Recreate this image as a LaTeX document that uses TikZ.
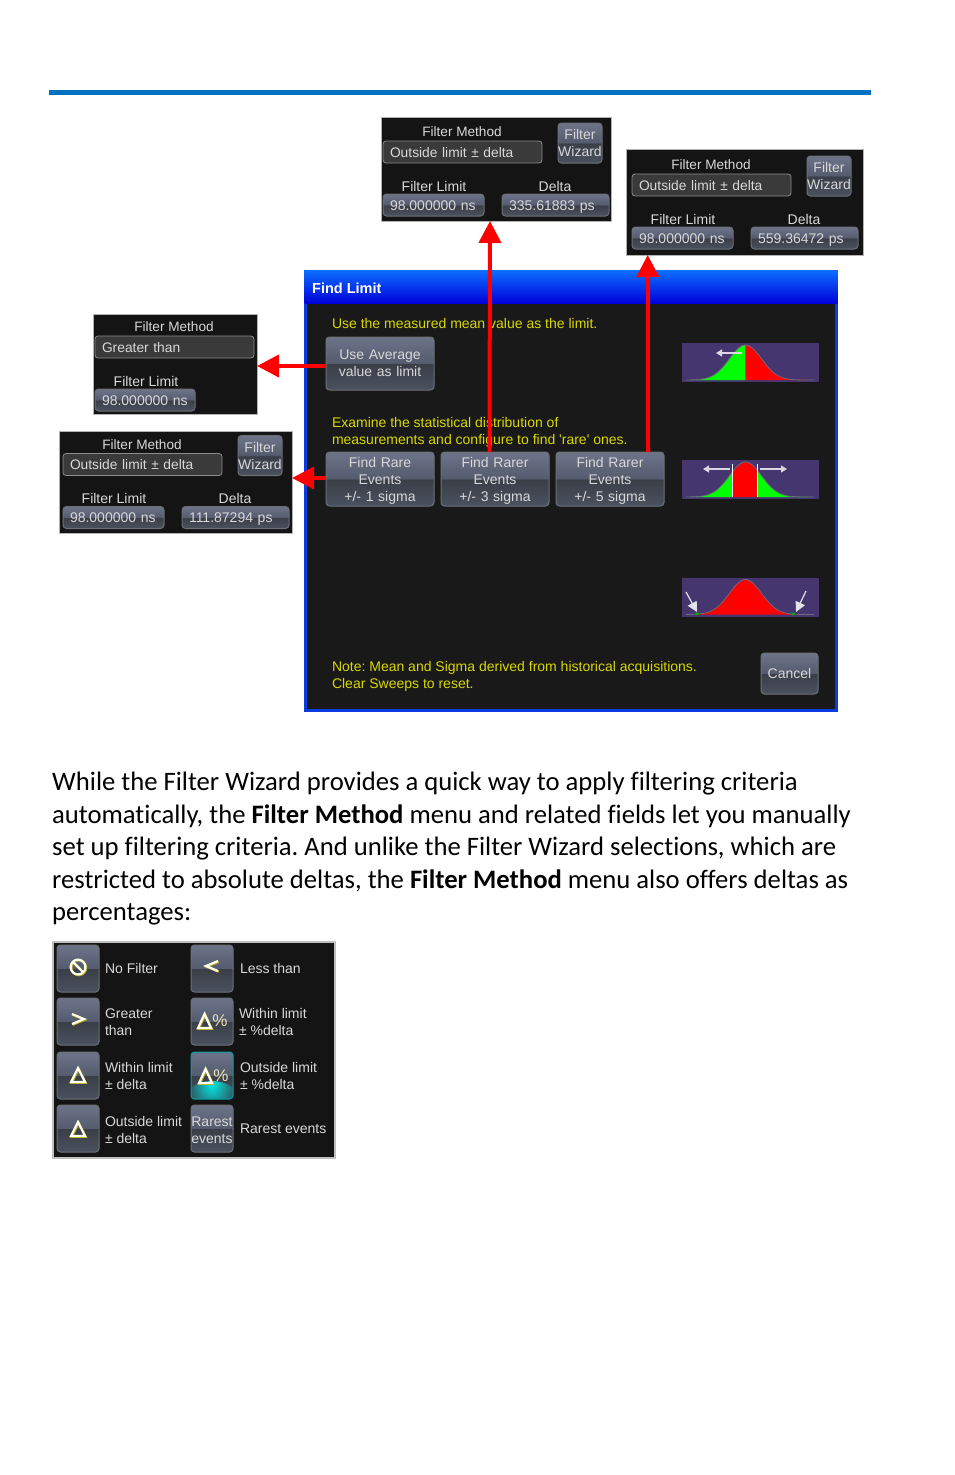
\documentclass[tikz,border=0pt]{standalone}
\usepackage{fontspec}
\setmainfont[Ligatures=NoCommon]{Carlito}
\newfontfamily\uifont{Liberation Sans}
\usetikzlibrary{arrows.meta}

\definecolor{rulecol}{HTML}{0070C0}
\definecolor{panelcol}{HTML}{141414}
\definecolor{dialogcol}{HTML}{191919}
\definecolor{labelcol}{HTML}{D8D8D8}
\definecolor{notecol}{HTML}{D8D800}
\definecolor{thumbcol}{HTML}{46366F}
\definecolor{iconcol}{HTML}{FFFFF0}
\definecolor{iconlow}{HTML}{B8A820}
\definecolor{btntop}{HTML}{6D7389}
\definecolor{btnmidhigh}{HTML}{565C6F}
\definecolor{btnmidlow}{HTML}{3A3E47}
\definecolor{btnlow}{HTML}{4A525F}
\definecolor{btnedge}{HTML}{6C7076}
\definecolor{glowcol}{HTML}{00E6E6}
\definecolor{fieldcol}{HTML}{3A3A3A}
\definecolor{fieldedge}{HTML}{8C8C8C}
\definecolor{dialogedge}{HTML}{0A3CE0}

\pgfdeclareverticalshading{btnshade}{100bp}{color(0bp)=(btnlow); color(25bp)=(btnlow);
  color(49.5bp)=(btnmidlow); color(50.5bp)=(btnmidhigh); color(75bp)=(btntop); color(100bp)=(btntop)}

\tikzset{
  x=1pt, y=-1pt,
  ui/.style={font=\uifont\fontsize{14}{17}\selectfont, text=labelcol, inner sep=0pt, outer sep=0pt},
  label/.style={ui, align=center},
  leftlabel/.style={ui, align=left, anchor=west},
  note/.style={leftlabel, text=notecol},
  btnbox/.style 2 args={ui, anchor=north west, align=center, shading=btnshade, draw=btnedge,
    rounded corners=3.5pt, line width=1pt, text width=#1, minimum width=#1, minimum height=#2},
  rarebox/.style={btnbox={108pt}{54pt}, text depth=33pt},
  valuebox/.style={ui, anchor=north west, align=left, shading=btnshade, draw=btnedge,
    rounded corners=3.5pt, line width=1pt, text width=#1, inner xsep=7pt, text height=11.5pt, text depth=1.5pt, minimum height=22pt},
  field/.style={ui, anchor=north west, align=left, fill=fieldcol, draw=fieldedge, rounded corners=3pt,
    line width=.8pt, text width=145pt, inner xsep=7pt, text height=11.5pt, text depth=1.5pt, minimum height=22pt,
    font=\uifont\fontsize{13.8}{17}\selectfont},
  panelbox/.style={anchor=north west, fill=panelcol, draw=gray!60, line width=.6pt, inner sep=0pt, outer sep=0pt},
  redarrow/.style={draw=red, line width=4pt, -{Triangle[length=22pt,width=22pt]}},
  thumb/.style={anchor=north west, fill=thumbcol, minimum width=137pt, minimum height=39pt, inner sep=0pt, outer sep=0pt},
  thumbarrow/.style={draw=white!80!thumbcol, line width=1.2pt, -{Triangle[length=6pt,width=7pt]}},
  iconwhite/.style={draw=iconcol, line width=2.2pt, line join=miter},
  iconshadow/.style={draw=iconlow, line width=2.2pt, line join=miter},
}

% panel with delta and wizard: name, x, y, w, h, field x, field y, delta value
\newcommand{\filterpanel}[8]{
  \node[panelbox, minimum width=#4, minimum height=#5] (#1panel) at (#2,#3) {};
  \begin{scope}[shift={(#6,#7)}]
    \node[label, font=\uifont\fontsize{13.6}{17}\selectfont] (#1method) at (79,-9) {Filter Method};
    \node[field] (#1field) at (0,0) {Outside limit ± delta};
    \node[btnbox={44pt}{40pt}] (#1wizard) at (175,-18) {Filter\\Wizard};
    \node[label] (#1limit) at (51,45) {Filter Limit};
    \node[valuebox=87pt] (#1value) at (0,53) {98.000000 ns};
    \node[label] (#1deltalabel) at (172,45) {Delta};
    \node[valuebox=93pt] (#1delta) at (119,53) {#8};
  \end{scope}
}
% filled piece of the bell curve: colour, from, to, base line
\newcommand{\bellfill}[4]{
  \fill[#1] (#2,#4) -- plot[domain=#2:#3, samples=40] (\x,{#4-35*exp(-0.5*((\x-745.5)/16)*((\x-745.5)/16))}) -- (#3,#4) -- cycle;
}
\newcommand{\bellbase}[1]{
  \draw[gray!70!thumbcol, line width=.8pt] plot[domain=686:814, samples=80] (\x,{#1-35*exp(-0.5*((\x-745.5)/16)*((\x-745.5)/16))});
}
% icon drawn with its shadow
\newcommand{\iconshape}[2]{
  \draw[iconshadow, shift={(#1)}, xshift=.8pt, yshift=-.8pt] #2;
  \draw[iconwhite, shift={(#1)}] #2;
}

\begin{document}
\frenchspacing
\begin{tikzpicture}
  \useasboundingbox (0,0) rectangle (954,1475);
  \fill[white] (0,0) rectangle (954,1475);
  \fill[rulecol] (49,90) rectangle (871,95);

  % the dialog
  \node[anchor=north west, fill=dialogcol, draw=dialogedge, line width=2.6pt, minimum width=531pt,
    minimum height=439pt, inner sep=0pt, outer sep=0pt] (dialog) at (305.5,271.5) {};
  \node[anchor=north west, top color=blue!60!cyan!95!white, bottom color=blue!85!black, minimum width=533pt,
    minimum height=33pt, inner sep=0pt, outer sep=0pt] (titlebar) at (304.5,270.5) {};
  \node[anchor=west, inner sep=0pt, text=white, font=\uifont\bfseries\fontsize{14.5}{17}\selectfont] (title) at (312,288) {Find Limit};

  \node[note] (usetext) at (332,323) {Use the measured mean value as the limit.};
  \node[btnbox={108pt}{53pt}] (avgbtn) at (326,337) {Use Average\\value as limit};
  \node[note] (examtext) at (332,432) {Examine the statistical distribution of\\measurements and configure to find 'rare' ones.};
  \node[rarebox] (rareone) at (326,452) {Find Rare\\Events\\+/- 1 sigma};
  \node[rarebox] (rarethree) at (441,452) {Find Rarer\\Events\\+/- 3 sigma};
  \node[rarebox] (rarefive) at (556,452) {Find Rarer\\Events\\+/- 5 sigma};
  \node[note] (notetext) at (332,676.5) {Note: Mean and Sigma derived from historical acquisitions.\\Clear Sweeps to reset.};
  \node[btnbox={57pt}{41pt}] (cancel) at (761,653) {Cancel};

  % the three curves
  \node[thumb] (thumbmean) at (682,343) {};
  \bellfill{green}{690}{745.5}{380}
  \bellfill{red}{745.5}{812}{380}
  \bellbase{380}
  \draw[thumbarrow] (742,353) -- (716,353);

  \node[thumb] (thumbsigma) at (682,460) {};
  \bellfill{green}{690}{732}{497}
  \bellfill{red}{732}{757}{497}
  \bellfill{green}{757}{812}{497}
  \bellbase{497}
  \draw[white, line width=1pt] (732,464) -- (732,497) (757,464) -- (757,497);
  \draw[thumbarrow] (730,469) -- (703,469);
  \draw[thumbarrow] (760,469) -- (787,469);

  \node[thumb] (thumbrare) at (682,578) {};
  \bellfill{red}{700}{792}{614.5}
  \bellbase{614.5}
  \fill[green!70!black] (695.5,612.5) rectangle (698.5,615) (791.5,612.5) rectangle (794.5,615);
  \draw[draw=white!85!thumbcol, line width=1.2pt, -{Triangle[length=10pt,width=10pt]}] (686,592) -- (697,612);
  \draw[draw=white!85!thumbcol, line width=1.2pt, -{Triangle[length=10pt,width=10pt]}] (806,591) -- (796,612);

  % the result panels
  \filterpanel{a}{381}{117}{230}{104}{383}{141}{335.61883 ps}
  \filterpanel{c}{626}{149}{237}{106}{632}{174}{559.36472 ps}
  \filterpanel{d}{59}{431}{233}{102}{63}{453.5}{111.87294 ps}
  \node[panelbox, minimum width=164pt, minimum height=100pt] (gpanel) at (93,314) {};
  \node[label, font=\uifont\fontsize{13.6}{17}\selectfont] (gmethod) at (174,327) {Filter Method};
  \node[field] (gfield) at (95,336) {Greater than};
  \node[label] (glimit) at (146,381) {Filter Limit};
  \node[valuebox=86pt] (gvalue) at (95,389) {98.000000 ns};

  \draw[redarrow] ([yshift=-2.5pt]avgbtn.west) -- ([yshift=-2pt]gpanel.east);
  \draw[redarrow] ([yshift=1pt]rareone.west) -- ([yshift=4pt]dpanel.east);
  \draw[redarrow] ([xshift=-5.5pt]rarethree.north) -- ([xshift=-6pt]apanel.south);
  \draw[redarrow] ([xshift=38pt]rarefive.north) -- ([xshift=-96.8pt]cpanel.south);

  % the paragraph
  \node[anchor=north west, align=left, inner sep=0pt, text=black, font=\fontsize{26.65}{32.5}\selectfont] (para) at (52,772)
    {While the Filter Wizard provides a quick way to apply filtering criteria\\
     automatically, the \textbf{Filter Method} menu and related fields let you manually\\
     set up filtering criteria. And unlike the Filter Wizard selections, which are\\
     restricted to absolute deltas, the \textbf{Filter Method} menu also offers deltas as\\
     percentages:};

  % the menu
  \node[anchor=north west, fill=panelcol, draw=gray!50!white, line width=1.4pt, minimum width=282pt,
    minimum height=216pt, inner sep=0pt, outer sep=0pt] (menu) at (53,942) {};
  \foreach \name/\px/\py in {nofilter/57/945, greater/57/998, within/57/1052, outside/57/1105,
      less/191/945, withinpct/191/998}
    \node[btnbox={42pt}{47pt}] (\name) at (\px,\py) {};
  \node[btnbox={42pt}{47pt}, draw=glowcol!70!black, path picture={
      \shade[inner color=glowcol, outer color=btnmidlow] (path picture bounding box.south) ellipse (27pt and 18pt);}]
    (outsidepct) at (191,1052) {};
  \node[btnbox={42pt}{47pt}, text depth=13pt] (rarest) at (191,1105) {Rarest\\events};

  \foreach \name/\px/\py/\txt in {lnofilter/105/968/No Filter, lgreater/105/1022/Greater\\than,
      lwithin/105/1076/Within limit\\± delta, loutside/105/1130/Outside limit\\± delta,
      lless/240/968/Less than, lwithinpct/239/1022/Within limit\\± \%delta,
      loutsidepct/240/1076/Outside limit\\± \%delta, lrarest/240/1129/Rarest events}
    \node[leftlabel] (\name) at (\px,\py) {\txt};

  \iconshape{78,967}{(0,0) circle (7.4pt) (-5.2,-5.2) -- (5.2,5.2)}
  \iconshape{212,966}{(6,-5) -- (-6,0) -- (6,5)}
  \iconshape{78,1019}{(-6,-5) -- (6,0) -- (-6,5)}
  \iconshape{78,1075}{(0,-7) -- (7,7) -- (-7,7) -- cycle}
  \iconshape{78,1129}{(0,-7) -- (7,7) -- (-7,7) -- cycle}
  \iconshape{204.5,1021}{(0,-7) -- (6.5,7) -- (-6.5,7) -- cycle}
  \iconshape{205.5,1076}{(0,-7) -- (6.5,7) -- (-6.5,7) -- cycle}
  \node[ui, text=iconcol!70!iconlow, font=\uifont\fontsize{17}{17}\selectfont] (pctone) at (220,1021) {\%};
  \node[ui, text=iconcol!70!iconlow, font=\uifont\fontsize{17}{17}\selectfont] (pcttwo) at (221,1076) {\%};
\end{tikzpicture}
\end{document}
